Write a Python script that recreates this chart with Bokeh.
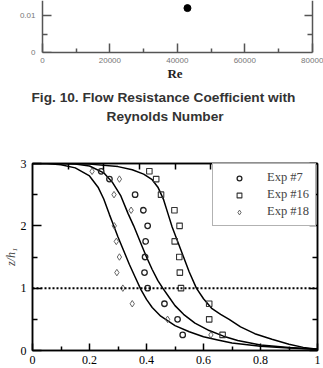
from bokeh.plotting import figure
from bokeh.models import (Range1d, LinearAxis, FixedTicker, Title, Legend, LegendItem,
                          Span, CustomJSTickFormatter)
from bokeh.layouts import column
from bokeh.embed import file_html
from bokeh.resources import INLINE

# ---------------- Fig. 10 (lower part, visible at the top) ----------------
re_values = [43000]
f_values = [0.0121]
re_ticks = [0, 20000, 40000, 60000, 80000]
re_minor = [10000, 30000, 50000, 70000]
f_ticks = [0, 0.01]
f_minor = [0.005]
caption_lines = ["Fig. 10. Flow Resistance Coefficient with", "Reynolds Number"]

# ---------------- main chart: z/h1 profiles ----------------
levels = [2.875, 2.75, 2.5, 2.25, 2.0, 1.75, 1.5, 1.25, 1.0, 0.75, 0.5, 0.25]
exp7_x = [0.241, 0.270, 0.360, 0.389, 0.404, 0.397, 0.395, 0.393, 0.404, 0.463, 0.509, 0.527]
exp16_x = [0.410, 0.434, 0.451, 0.498, 0.516, 0.499, 0.515, 0.517, 0.521, 0.620, 0.620, 0.667]
exp18_x = [0.209, 0.305, 0.286, 0.346, 0.287, 0.294, 0.305, 0.296, 0.317, 0.350, 0.474, 0.626]

curve_l_x = [0, 0.05, 0.10, 0.15, 0.20, 0.23, 0.25, 0.27, 0.285, 0.30, 0.32, 0.34, 0.36, 0.38,
             0.40, 0.42, 0.45, 0.50, 0.55, 0.60, 0.65, 0.70, 0.80, 0.90, 1.0]
curve_l_y = [3.0, 3.0, 2.98, 2.93, 2.80, 2.62, 2.43, 2.18, 2.0, 1.82, 1.6, 1.38, 1.18, 0.98,
             0.82, 0.69, 0.55, 0.40, 0.30, 0.22, 0.17, 0.12, 0.07, 0.04, 0.02]
curve_m_x = [0, 0.10, 0.15, 0.20, 0.25, 0.28, 0.31, 0.335, 0.355, 0.38, 0.40, 0.42, 0.44, 0.457,
             0.48, 0.50, 0.53, 0.57, 0.62, 0.67, 0.72, 0.80, 0.90, 1.0]
curve_m_y = [3.0, 3.0, 2.99, 2.96, 2.85, 2.70, 2.48, 2.2, 2.0, 1.72, 1.5, 1.3, 1.12, 1.0,
             0.85, 0.72, 0.58, 0.44, 0.32, 0.23, 0.16, 0.09, 0.05, 0.02]
curve_r_x = [0, 0.10, 0.20, 0.30, 0.35, 0.39, 0.42, 0.44, 0.46, 0.475, 0.49, 0.51, 0.53, 0.55,
             0.575, 0.60, 0.63, 0.66, 0.69, 0.73, 0.78, 0.84, 0.90, 0.95, 1.0]
curve_r_y = [3.0, 3.0, 2.99, 2.95, 2.9, 2.83, 2.74, 2.62, 2.42, 2.2, 1.98, 1.74, 1.5, 1.26,
             1.0, 0.83, 0.67, 0.58, 0.5, 0.38, 0.27, 0.18, 0.1, 0.05, 0.02]
ref_level = 1.0
x_ticks = [0, 0.2, 0.4, 0.6, 0.8, 1.0]
x_minor = [0.1, 0.3, 0.5, 0.7, 0.9]
top_ticks = [0.125, 0.25, 0.375, 0.5, 0.625, 0.75, 0.875]
y_ticks = [0, 1, 2, 3]
y_minor = [0.5, 1.5, 2.5]
series_labels = ["Exp #7", "Exp #16", "Exp #18"]
y_label = "z/h\u2081"

plain = CustomJSTickFormatter(code="return tick.toString()")
blank = CustomJSTickFormatter(code="return ''")

W = 323
BL, BR = 31, 6          # shared frame borders (column aligns frames)
frame_w = W - BL - BR

# ---------------- top figure ----------------
# its axes sit 10 px inside the left edge and 5 px inside the right edge of the frame
re_lo, re_hi = re_ticks[0], re_ticks[-1]
px_per = (frame_w - 10 - 5.3) / (re_hi - re_lo)
p1 = figure(width=W, height=130,
            x_range=Range1d(re_lo - 10 / px_per, re_hi + 5.3 / px_per),
            y_range=Range1d(0, 0.01417),
            x_axis_type=None, y_axis_type=None, output_backend="svg", toolbar_location=None,
            min_border_left=BL, min_border_right=BR, min_border_top=0, min_border_bottom=78,
            outline_line_color=None)
gray = "#555555"
gstyle = dict(axis_line_color=gray, major_tick_line_color=gray, minor_tick_line_color=gray,
              axis_line_width=1.5, major_tick_line_width=1.5, minor_tick_line_width=1.5,
              major_tick_out=0, minor_tick_out=0,
              major_label_text_font="Liberation Sans", major_label_text_font_size="8px",
              major_label_text_color="#777777")
ax_b = LinearAxis(ticker=FixedTicker(ticks=re_ticks, minor_ticks=re_minor), formatter=plain,
                  bounds=(re_lo, re_hi),
                  axis_label="Re", axis_label_text_font="Liberation Serif",
                  axis_label_text_font_style="bold", axis_label_text_font_size="13px",
                  axis_label_text_color="#222222", axis_label_standoff=0,
                  major_label_standoff=5, major_tick_in=9, minor_tick_in=4, **gstyle)
p1.add_layout(ax_b, "below")
ax_l = LinearAxis(ticker=FixedTicker(ticks=f_ticks, minor_ticks=f_minor), formatter=blank,
                  fixed_location=re_lo, major_label_standoff=0,
                  major_tick_in=9, minor_tick_in=5, **gstyle)
p1.add_layout(ax_l, "left")
# tick labels for the left axis (drawn outside the frame, next to the inset axis line)
ax_l_lab = LinearAxis(ticker=FixedTicker(ticks=f_ticks, minor_ticks=[]), formatter=plain,
                      major_label_standoff=-3, axis_line_color=None,
                      major_tick_line_color=None, minor_tick_line_color=None,
                      major_tick_in=0, major_tick_out=0, minor_tick_in=0, minor_tick_out=0,
                      major_label_text_font="Liberation Sans", major_label_text_font_size="8px",
                      major_label_text_color="#777777")
p1.add_layout(ax_l_lab, "left")
ax_r = LinearAxis(ticker=FixedTicker(ticks=[f_ticks[1]], minor_ticks=f_minor), formatter=blank,
                  fixed_location=re_hi, major_label_standoff=0,
                  major_tick_in=8, minor_tick_in=5, **gstyle)
p1.add_layout(ax_r, "right")
p1.scatter(re_values, f_values, marker="circle", size=7, color="black")
cap_offsets = [-1, 74]
cap_standoffs = [9, -6]
for line, off, so in zip(caption_lines, cap_offsets, cap_standoffs):
    p1.add_layout(Title(text=line, align="left", offset=off, text_font="Liberation Sans",
                        text_font_style="bold", text_font_size="13.7px",
                        text_color="#333333", standoff=so), "below")

# ---------------- main figure ----------------
p2 = figure(width=W, height=238, x_range=Range1d(0, 1), y_range=Range1d(0, 3),
            x_axis_type=None, y_axis_type=None, output_backend="svg", toolbar_location=None,
            min_border_left=BL, min_border_right=BR, min_border_top=33, min_border_bottom=18,
            outline_line_color="black", outline_line_width=1.5)
common = dict(axis_line_color="black", axis_line_width=1.5, major_tick_line_width=1.5,
              minor_tick_line_width=1.5, major_tick_out=0, minor_tick_out=0,
              major_label_text_font="Liberation Serif", major_label_text_font_size="12px",
              major_label_text_color="black")
xb = LinearAxis(ticker=FixedTicker(ticks=x_ticks, minor_ticks=x_minor), formatter=plain,
                major_tick_in=7, minor_tick_in=4, major_label_standoff=5, **common)
p2.add_layout(xb, "below")
yl = LinearAxis(ticker=FixedTicker(ticks=y_ticks, minor_ticks=y_minor), formatter=plain,
                major_tick_in=9, minor_tick_in=5, major_label_standoff=6,
                axis_label=y_label, axis_label_text_font="Liberation Serif",
                axis_label_text_font_style="italic", axis_label_text_font_size="12px",
                axis_label_standoff=0, **common)
p2.add_layout(yl, "left")
xt = LinearAxis(ticker=FixedTicker(ticks=top_ticks, minor_ticks=[]), formatter=blank,
                major_tick_in=6, minor_tick_in=0, major_label_standoff=0, **common)
p2.add_layout(xt, "above")
yr = LinearAxis(ticker=FixedTicker(ticks=y_ticks, minor_ticks=y_minor), formatter=blank,
                major_tick_in=8, minor_tick_in=5, major_label_standoff=0, **common)
p2.add_layout(yr, "right")

p2.add_layout(Span(location=ref_level, dimension="width", line_color="black",
                   line_width=2, line_dash="2 2"))
for cx, cy in [(curve_l_x, curve_l_y), (curve_m_x, curve_m_y), (curve_r_x, curve_r_y)]:
    p2.line(cx, cy, line_color="black", line_width=1.5)

r7 = p2.scatter(exp7_x, levels, marker="circle", size=5.5, fill_color=None,
                line_color="#222222", line_width=1.3)
r16 = p2.scatter(exp16_x, levels, marker="square", size=5.5, fill_color=None,
                 line_color="#333333", line_width=1.1)
r18 = p2.scatter(exp18_x, levels, marker="diamond", size=6.5, fill_color=None,
                 line_color="#555555", line_width=0.9)

legend = Legend(items=[LegendItem(label=series_labels[0], renderers=[r7]),
                       LegendItem(label=series_labels[1], renderers=[r16]),
                       LegendItem(label=series_labels[2], renderers=[r18])],
                location=(180, 124), border_line_color="#666666", border_line_width=1,
                background_fill_color="white", background_fill_alpha=1,
                label_text_font="Liberation Serif", label_text_font_size="12.5px",
                glyph_width=40, glyph_height=12, label_height=13, label_standoff=8,
                padding=6, spacing=2, margin=0)
p2.add_layout(legend)

layout = column(p1, p2, spacing=0)
open("out.html", "w").write(file_html(layout, INLINE))
